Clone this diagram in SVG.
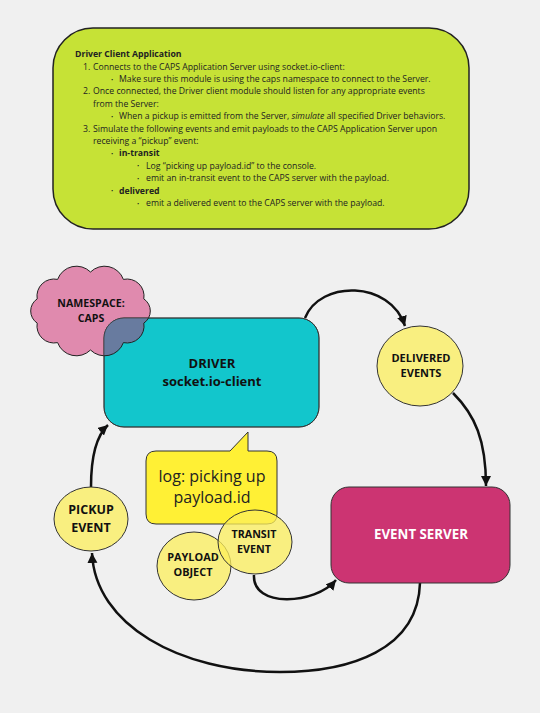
<svg xmlns="http://www.w3.org/2000/svg" width="540" height="713" viewBox="0 0 540 713">
<defs>
<style>
.t{font-family:"Open Sans","Liberation Sans",sans-serif;fill:#222;}
.sm{font-size:8.7px;}
.bl{font-size:6px;}
.b{font-weight:bold;}
.lbl{font-family:"Open Sans","Liberation Sans",sans-serif;font-weight:bold;fill:#111;text-anchor:middle;}
.yel{fill:#fcef5b;fill-opacity:0.75;stroke:#333;stroke-width:1;}
.con{fill:none;stroke:#111;stroke-width:2.5;marker-end:url(#ah);}
</style>
<marker id="ah" markerUnits="userSpaceOnUse" markerWidth="11" markerHeight="11" refX="10" refY="5" orient="auto">
<path d="M0,0 L10,5 L0,10 z" fill="#111"/>
</marker>
<path id="cloudp" d="M143.8,323.1 A17,17 0 0 1 123.4,342.6 A20,20 0 0 1 90.5,350 A20,20 0 0 1 57.6,342.6 A17,17 0 0 1 37.2,323.1 A14.5,14.5 0 0 1 37.2,298.9 A17,17 0 0 1 57.6,279.4 A20,20 0 0 1 90.5,272 A20,20 0 0 1 123.4,279.4 A17,17 0 0 1 143.8,298.9 A14.5,14.5 0 0 1 143.8,323.1 Z"/>
<clipPath id="drvclip"><rect x="104" y="318" width="215" height="109" rx="20"/></clipPath>
</defs>
<rect width="540" height="713" fill="#f0f0f0"/>

<g id="spec">
<rect x="53" y="28" width="416" height="201" rx="40" fill="#c6e236" stroke="#222" stroke-width="1.5"/>
<text class="t sm b" x="75" y="57">Driver Client Application</text>
<text class="t sm" x="83" y="69.5">1.</text>
<text class="t sm" x="93" y="69.5">Connects to the CAPS Application Server using socket.io-client:</text>
<text class="t bl" x="111" y="81.5">•</text>
<text class="t sm" x="119" y="82">Make sure this module is using the caps namespace to connect to the Server.</text>
<text class="t sm" x="83" y="94.3">2.</text>
<text class="t sm" x="93" y="94.3">Once connected, the Driver client module should listen for any appropriate events</text>
<text class="t sm" x="93" y="106.7">from the Server:</text>
<text class="t bl" x="111" y="118.7">•</text>
<text class="t sm" x="119" y="119.2">When a pickup is emitted from the Server, <tspan font-style="italic">simulate</tspan> all specified Driver behaviors.</text>
<text class="t sm" x="83" y="131.6">3.</text>
<text class="t sm" x="93" y="131.6">Simulate the following events and emit payloads to the CAPS Application Server upon</text>
<text class="t sm" x="93" y="144">receiving a “pickup” event:</text>
<text class="t bl" x="111" y="155.9">•</text>
<text class="t sm b" x="119" y="156.4">in-transit</text>
<text class="t bl" x="137" y="168.3">•</text>
<text class="t sm" x="146" y="168.8">Log “picking up payload.id” to the console.</text>
<text class="t bl" x="137" y="180.7">•</text>
<text class="t sm" x="146" y="181.2">emit an in-transit event to the CAPS server with the payload.</text>
<text class="t bl" x="111" y="193.1">•</text>
<text class="t sm b" x="119" y="193.6">delivered</text>
<text class="t bl" x="137" y="205.5">•</text>
<text class="t sm" x="146" y="206">emit a delivered event to the CAPS server with the payload.</text>
</g>

<g id="connectors">
<path class="con" d="M305,318 C320,280 390,280 405,326"/>
<path class="con" d="M453,393 C475,415 486,440 486,486"/>
<path class="con" d="M420,583 C418,650 350,672 280,672 C180,672 95,625 92,553"/>
<path class="con" d="M91,487 C91,455 97,435 108,425"/>
<path class="con" d="M254,575 C252,608 315,605 336,580"/>
</g>

<g id="namespace">
<use href="#cloudp" fill="#e08aae" stroke="#222" stroke-width="1"/>
</g>

<g id="driver">
<rect x="104" y="318" width="215" height="109" rx="20" fill="#12c6cc" stroke="#333" stroke-width="1"/>
<g clip-path="url(#drvclip)">
<use href="#cloudp" fill="#687b9f" stroke="#222" stroke-width="1"/>
</g>
<rect x="104" y="318" width="215" height="109" rx="20" fill="none" stroke="#333" stroke-width="1" stroke-opacity="0.6"/>
<text class="lbl" x="212" y="368" font-size="13">DRIVER</text>
<text class="lbl" x="212" y="386" font-size="13">socket.io-client</text>
</g>

<g id="namespace-label">
<text class="lbl" x="91" y="306.7" font-size="10.6">NAMESPACE:</text>
<text class="lbl" x="91" y="321.7" font-size="10.6">CAPS</text>
</g>

<g id="delivered">
<ellipse class="yel" cx="420" cy="366" rx="43" ry="40"/>
<text class="lbl" x="421" y="362" font-size="11">DELIVERED</text>
<text class="lbl" x="421" y="377" font-size="11">EVENTS</text>
</g>

<g id="eventserver">
<rect x="331" y="487" width="179" height="96" rx="18" fill="#cc3472" stroke="#333" stroke-width="1"/>
<text class="lbl" x="421" y="539" font-size="13.3" style="fill:#fff">EVENT SERVER</text>
</g>

<g id="pickup">
<ellipse class="yel" cx="91" cy="519" rx="37" ry="32"/>
<text class="lbl" x="91" y="514" font-size="12.5">PICKUP</text>
<text class="lbl" x="91" y="532" font-size="12.5">EVENT</text>
</g>

<g id="log">
<path d="M156,451 L230,451 L248,432 L248,451 L267,451 Q277,451 277,461 L277,514 Q277,524 267,524 L156,524 Q146,524 146,514 L146,461 Q146,451 156,451 Z" fill="#fff035" stroke="#333" stroke-width="1"/>
<text x="212" y="482" font-size="16" text-anchor="middle" font-family="'Open Sans','Liberation Sans',sans-serif" fill="#222">log: picking up</text>
<text x="212" y="503" font-size="16" text-anchor="middle" font-family="'Open Sans','Liberation Sans',sans-serif" fill="#222">payload.id</text>
</g>

<g id="payload">
<ellipse class="yel" cx="194" cy="566" rx="37" ry="34"/>
<text class="lbl" x="193" y="561" font-size="10.9">PAYLOAD</text>
<text class="lbl" x="193" y="576" font-size="10.9">OBJECT</text>
</g>

<g id="transit">
<ellipse class="yel" cx="255" cy="542" rx="37" ry="32"/>
<text class="lbl" x="254" y="538" font-size="10.7">TRANSIT</text>
<text class="lbl" x="254" y="553" font-size="10.7">EVENT</text>
</g>
</svg>
